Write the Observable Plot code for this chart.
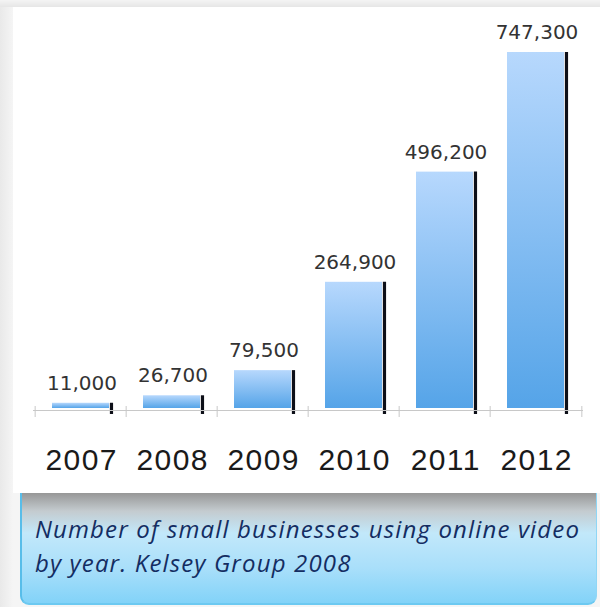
<!DOCTYPE html>
<html>
<head>
<meta charset="utf-8">
<script src="https://cdn.jsdelivr.net/npm/d3@7"></script>
<script src="https://cdn.jsdelivr.net/npm/@observablehq/plot@0.6"></script>
<style>
  html, body { margin: 0; padding: 0; }
  body {
    width: 600px; height: 607px; position: relative; overflow: hidden;
    background: linear-gradient(to right, #e9e9e9 0px, #f5f5f5 13px, #f5f5f5 100%);
  }
  #topband { position: absolute; left: 0; top: 0; width: 600px; height: 7px;
    background: linear-gradient(to bottom, #f4f4f4, #e6e6e6); }
  #panel { position: absolute; left: 13px; top: 7px; width: 587px; height: 486px; background: #fff; }
  #caption {
    position: absolute; left: 20px; top: 493px; width: 577px; height: 112px;
    box-sizing: border-box;
    border-left: 2px solid #58bde9; border-bottom: 2px solid #6cc9f1; border-right: 1px solid #8fd6f5;
    border-radius: 0 0 9px 9px;
    background: linear-gradient(to bottom, #979797 0px, #c4cbcf 18px, #c2e8fa 40px, #a9dffa 75px, #80d2f8 112px);
    font-family: "Open Sans", sans-serif; font-style: italic; font-size: 24px;
    letter-spacing: 1.15px;
    color: #142d62; line-height: 34px; padding: 19px 0 0 13px;
  }
</style>
</head>
<body>
<div id="topband"></div>
<div id="panel"></div>
<div id="caption">Number of small businesses using online video<br>by year. Kelsey Group 2008</div>
<script>
const years = ["2007", "2008", "2009", "2010", "2011", "2012"];
const values = [11000, 26700, 79500, 264900, 496200, 747300];
const labels = ["11,000", "26,700", "79,500", "264,900", "496,200", "747,300"];

const data = years.map((y, i) => ({year: y, value: values[i], label: labels[i]}));
const step = 550 / 6;
const barW = step * (1 - 0.37);

const chart = Plot.plot({
  width: 587,
  height: 486,
  marginLeft: 20,
  marginRight: 17,
  marginTop: 45,
  marginBottom: 85,
  style: {background: "white", fontFamily: "'Liberation Sans', Arial, sans-serif"},
  x: {domain: years, paddingInner: 0.37, paddingOuter: 0.185, align: 0.5},
  y: {domain: [0, 747300], axis: null},
  marks: [
    Plot.ruleX(data, {x: "year", y1: 0, y2: "value", dx: barW / 2 + 1.6, strokeWidth: 3.2, stroke: "#0d0f18", insetTop: 6}),
    Plot.barY(data, {x: "year", y: "value", fill: "url(#barGrad)"}),
    Plot.ruleY([0], {stroke: "#c8c8c8", strokeWidth: 1.2, dy: 2}),
    Plot.ruleX(years, {x: d => d, y1: 0, y2: 0, dx: -step / 2, insetBottom: -9, insetTop: -2, stroke: "#c8c8c8"}),
    Plot.ruleX([years[years.length - 1]], {x: d => d, y1: 0, y2: 0, dx: step / 2, insetBottom: -9, insetTop: -2, stroke: "#c8c8c8"}),
    Plot.axisX({tickSize: 0, tickPadding: 40, fontSize: 30, fill: "#1a1a1a", label: null,
      fontFamily: "'Liberation Sans', Arial, sans-serif"}),
    Plot.text(data, {x: "year", y: "value", text: "label", dy: -20, dx: 1, fontSize: 20,
      fill: "#333", fontFamily: "'DejaVu Sans', Verdana, sans-serif"})
  ]
});

d3.select(chart).selectAll('[aria-label="x-axis tick label"] text')
  .style("letter-spacing", "1.4px").attr("dx", "0.7px");

const ns = "http://www.w3.org/2000/svg";
const defs = document.createElementNS(ns, "defs");
defs.innerHTML = `<linearGradient id="barGrad" x1="0" y1="0" x2="0" y2="1">
  <stop offset="0" stop-color="#b7d8fd"/>
  <stop offset="1" stop-color="#55a4e8"/>
</linearGradient>`;
chart.insertBefore(defs, chart.firstChild);
document.getElementById("panel").appendChild(chart);
</script>
</body>
</html>
